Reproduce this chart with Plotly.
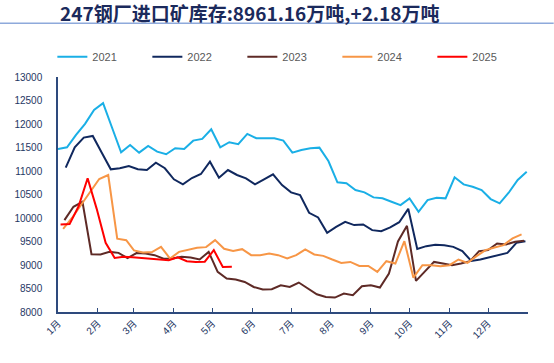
import pandas as pd
import plotly.graph_objects as go

# ---- data ----
title_text = "247钢厂进口矿库存:8961.16万吨,+2.18万吨"
month_labels = ["1月", "2月", "3月", "4月", "5月", "6月", "7月", "8月", "9月", "10月", "11月", "12月"]

start_2021, start_2022, start_2023, start_2024, start_2025 = "2021-01-01", "2022-01-07", "2023-01-06", "2024-01-05", "2025-01-03"

v2021 = [11469, 11505, 11768, 12002, 12300, 12443, 11920, 11399, 11554, 11390,
         11533, 11412, 11356, 11484, 11469, 11646, 11682, 11889, 11505, 11612,
         11569, 11789, 11697, 11697, 11697, 11646, 11390, 11448, 11484, 11497,
         11213, 10759, 10738, 10595, 10546, 10439, 10418, 10345, 10275, 10418,
         10132, 10382, 10431, 10418, 10866, 10716, 10665, 10595, 10403, 10311,
         10537, 10808, 10985]
v2022 = [11070, 11505, 11710, 11746, 11390, 11036, 11058, 11107, 11036, 11021,
         11177, 11058, 10823, 10716, 10850, 10936, 11198, 10857, 11021, 10915,
         10844, 10716, 10823, 10930, 10701, 10546, 10488, 10111, 10013, 9684,
         9812, 9919, 9849, 9863, 9742, 9720, 9800, 9910, 10195, 9340,
         9401, 9430, 9422, 9386, 9294, 9087, 9117, 9160, 9209, 9258,
         9471, 9507]
v2023 = [9955, 10239, 10345, 9230, 9224, 9279, 9258, 9145, 9255, 9245,
         9209, 9135, 9138, 9173, 9160, 9117, 9279, 8853, 8712, 8691,
         8640, 8533, 8478, 8484, 8569, 8533, 8627, 8499, 8377, 8320,
         8307, 8392, 8356, 8548, 8569, 8520, 8819, 9500, 9834, 8661,
         8853, 9066, 9032, 8996, 9032, 9081, 9294, 9316, 9458, 9437,
         9493, 9514]
v2024 = [9770, 10006, 10281, 10557, 10830, 10915, 9560, 9529, 9310, 9265,
         9275, 9386, 9138, 9279, 9330, 9365, 9380, 9529, 9345, 9300,
         9337, 9209, 9209, 9245, 9209, 9138, 9209, 9330, 9224, 9194,
         9117, 9045, 9066, 8981, 8981, 8853, 9081, 9032, 9507, 8730,
         8996, 8996, 8974, 8996, 9117, 9045, 9188, 9316, 9373, 9422,
         9565, 9650]
v2025 = [9863, 9870, 10250, 10845, 10200, 9471, 9151, 9173, 9165, 9150,
         9138, 9120, 9102, 9165, 9081, 9066, 9070, 9316, 8959, 8961.16]

series = [
    ("2021", start_2021, v2021, "#1AAFE6"),
    ("2022", start_2022, v2022, "#10285E"),
    ("2023", start_2023, v2023, "#5E2A26"),
    ("2024", start_2024, v2024, "#F79646"),
    ("2025", start_2025, v2025, "#FF0000"),
]

month_starts = pd.date_range("2021-01-01", periods=13, freq="MS")
base = pd.Timestamp("2021-01-01")


def to_day(dates):
    # map each date to its day-of-year on the common 2021 calendar
    return [(pd.Timestamp(2021, d.month, d.day) - base).days for d in dates]


fig = go.Figure()
for name, start, vals, color in series:
    dates = pd.date_range(start, periods=len(vals), freq="7D")
    fig.add_trace(go.Scatter(x=to_day(dates), y=vals, name=name, mode="lines",
                             line=dict(color=color, width=2)))

axis_color = "#2E4A7D"
label_color = "#1F3864"
font_fam = "Liberation Sans, Arial, Noto Sans CJK SC, sans-serif"

tickvals = to_day(month_starts[:12]) + [365]
ticktext = month_labels + [""]

fig.update_layout(
    width=554, height=363,
    margin=dict(l=58, r=26, t=77, b=51, autoexpand=False),
    paper_bgcolor="white", plot_bgcolor="white",
    font=dict(family=font_fam, size=10, color=label_color),
    showlegend=True,
    legend=dict(orientation="h", x=-0.012, y=1.0865, xanchor="left", yanchor="middle",
                font=dict(size=11, color="#595959", family=font_fam),
                entrywidth=50, entrywidthmode="pixels",
                bgcolor="rgba(0,0,0,0)", traceorder="normal"),
    title=dict(text="<b>" + title_text + "</b>", x=60 / 554, xanchor="left",
               y=1 - 14 / 363, yanchor="middle", xref="container", yref="container",
               font=dict(family="Noto Sans CJK SC, sans-serif", size=19, color="#1B2A5C")),
    shapes=[dict(type="line", xref="paper", yref="paper",
                 x0=-58.3 / 470, x1=(554 - 58.3) / 470,
                 y0=(311.7 - 23.3) / 234.7, y1=(311.7 - 23.3) / 234.7,
                 line=dict(color="#8EA9DB", width=1.5))],
)

fig.update_xaxes(range=[0, 365], tickmode="array", tickvals=tickvals, ticktext=ticktext,
                 tickangle=-45, showgrid=False, zeroline=False, showline=True,
                 linecolor=axis_color, linewidth=1.5, ticks="inside", ticklen=4,
                 tickcolor=axis_color, tickwidth=1.2,
                 tickfont=dict(size=10, color=label_color, family=font_fam))
fig.update_yaxes(range=[8000, 13000], dtick=500, tick0=8000, tickformat="d",
                 showgrid=False, zeroline=False, showline=True,
                 linecolor=axis_color, linewidth=1.5, ticks="", ticklabelstandoff=12,
                 tickfont=dict(size=10, color=label_color, family=font_fam))

fig.write_html("out.html", config={"displayModeBar": False},
               post_script="document.body.style.margin='0';document.body.style.overflow='hidden';")
